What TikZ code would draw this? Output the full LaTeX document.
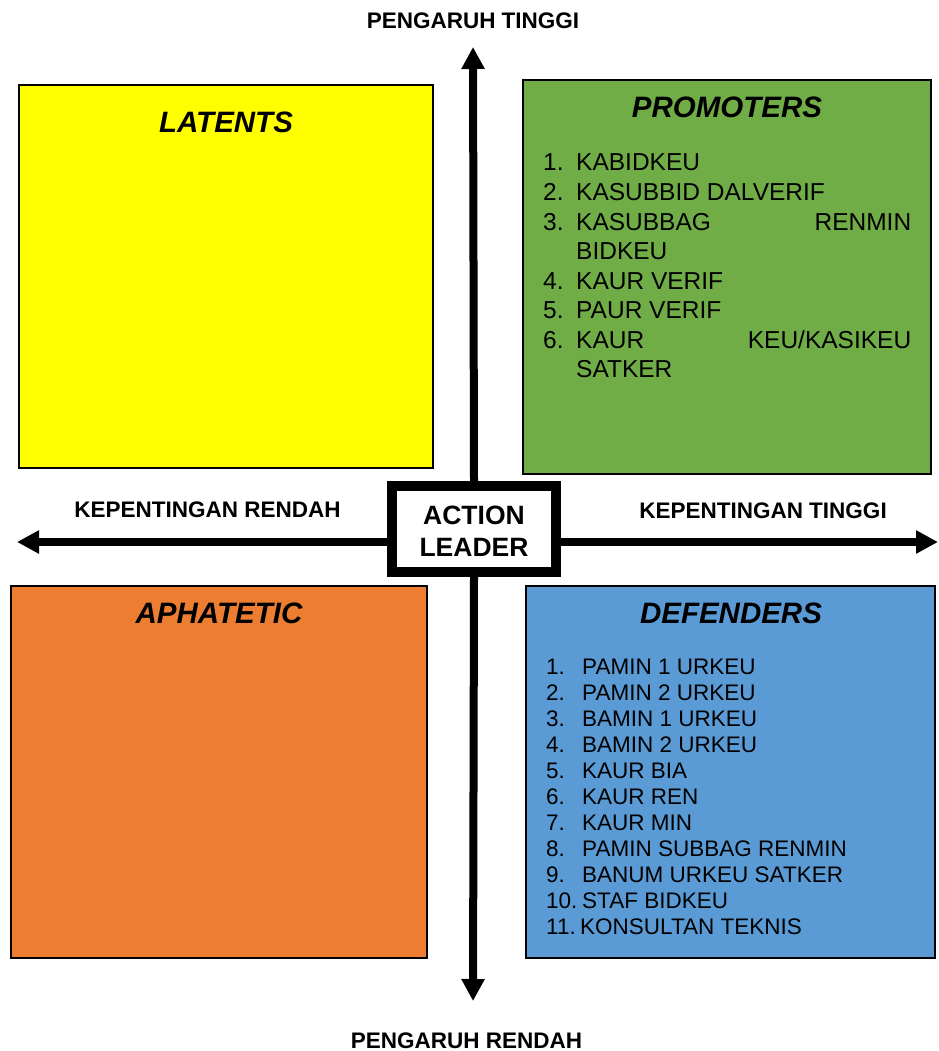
\documentclass[tikz,border=0pt]{standalone}
\usepackage{fontspec}
\setmainfont{Liberation Sans}
\usetikzlibrary{arrows.meta}
\definecolor{qyellow}{HTML}{FFFF00}
\definecolor{qgreen}{HTML}{70AD47}
\definecolor{qorange}{HTML}{ED7D31}
\definecolor{qblue}{HTML}{5B9BD5}
\newcommand\pitem[4]{\node[ptxt] (#1) at (543,#2) {\makebox[33pt][l]{#3}#4};}
\newcommand\ditem[4]{\node[dtxt] (#1) at (546,#2) {\makebox[36pt][l]{#3}#4};}
\begin{document}
\begin{tikzpicture}[x=1pt,y=-1pt,
  quad/.style={draw=black, line width=1.5pt, inner sep=0pt, outer sep=0pt},
  qtitle/.style={inner sep=0pt, font=\fontsize{29.5}{32}\selectfont\bfseries\itshape},
  axlabel/.style={inner sep=0pt, font=\fontsize{22.5}{25}\selectfont\bfseries},
  ptxt/.style={inner sep=0pt, anchor=base west, font=\fontsize{24.5}{29.5}\selectfont},
  dtxt/.style={inner sep=0pt, anchor=base west, font=\fontsize{22.5}{26}\selectfont},
  axis/.style={line width=8pt, -{Triangle[width=22pt,length=22pt]}},
  leaderbox/.style={draw=black, fill=white, line width=10pt, minimum width=164pt, minimum height=86pt, inner sep=0pt},
  leadertxt/.style={inner sep=0pt, align=center, font=\fontsize{26.5}{32}\selectfont\bfseries}]
\useasboundingbox (0,0) rectangle (938,1051);
\fill[white] (0,0) rectangle (938,1051);

% quadrant boxes
\node[quad, fill=qyellow, minimum width=414pt, minimum height=383pt] (lat) at (226,276.5) {};
\node[quad, fill=qgreen, minimum width=408pt, minimum height=394pt] (pro) at (727,277) {};
\node[quad, fill=qorange, minimum width=416pt, minimum height=372pt] (aph) at (219,772) {};
\node[quad, fill=qblue, minimum width=409pt, minimum height=372pt] (def) at (730.5,772) {};

% titles
\node[qtitle] (latT) at (226,122) {LATENTS};
\node[qtitle] (proT) at (727,107) {PROMOTERS};
\node[qtitle] (aphT) at (219,613) {APHATETIC};
\node[qtitle] (defT) at (731,613) {DEFENDERS};

% promoters list
\pitem{p1}{171}{1.}{KABIDKEU}
\pitem{p2}{200.5}{2.}{KASUBBID DALVERIF}
\pitem{p3}{230}{3.}{\hbox to 335pt{KASUBBAG\hfill RENMIN}}
\pitem{p3b}{259.5}{}{BIDKEU}
\pitem{p4}{289}{4.}{KAUR VERIF}
\pitem{p5}{318.5}{5.}{PAUR VERIF}
\pitem{p6}{348}{6.}{\hbox to 335pt{KAUR\hfill KEU/KASIKEU}}
\pitem{p6b}{377.5}{}{SATKER}

% defenders list
\ditem{d1}{674}{1.}{PAMIN 1 URKEU}
\ditem{d2}{700}{2.}{PAMIN 2 URKEU}
\ditem{d3}{726}{3.}{BAMIN 1 URKEU}
\ditem{d4}{752}{4.}{BAMIN 2 URKEU}
\ditem{d5}{778}{5.}{KAUR BIA}
\ditem{d6}{804}{6.}{KAUR REN}
\ditem{d7}{830}{7.}{KAUR MIN}
\ditem{d8}{856}{8.}{PAMIN SUBBAG RENMIN}
\ditem{d9}{882}{9.}{BANUM URKEU SATKER}
\ditem{d10}{908}{10.}{STAF BIDKEU}
\node[dtxt] (d11) at (546,934) {\makebox[34pt][l]{11.}KONSULTAN TEKNIS};

% axes
\coordinate (tipT) at (473,47);
\coordinate (tipB) at (473,1001);
\coordinate (tipL) at (17,542);
\coordinate (tipR) at (938,542);
\node[leaderbox] (al) at (474,529) {};
\draw[axis] (al.north) -- (tipT);
\draw[axis] (al.south) -- (tipB);
\draw[axis] (al.west |- tipL) -- (tipL);
\draw[axis] (al.east |- tipR) -- (tipR);
\node[leaderbox] (alc) at (al) {};
\node[leadertxt] (alt) at (474,531) {ACTION\\LEADER};

% axis labels
\node[axlabel] (lblT) at (473,21) {PENGARUH TINGGI};
\node[axlabel] (lblB) at (466.5,1040.5) {PENGARUH RENDAH};
\node[axlabel] (lblL) at (207.5,509.5) {KEPENTINGAN RENDAH};
\node[axlabel] (lblR) at (763,510.5) {KEPENTINGAN TINGGI};
\end{tikzpicture}
\end{document}
